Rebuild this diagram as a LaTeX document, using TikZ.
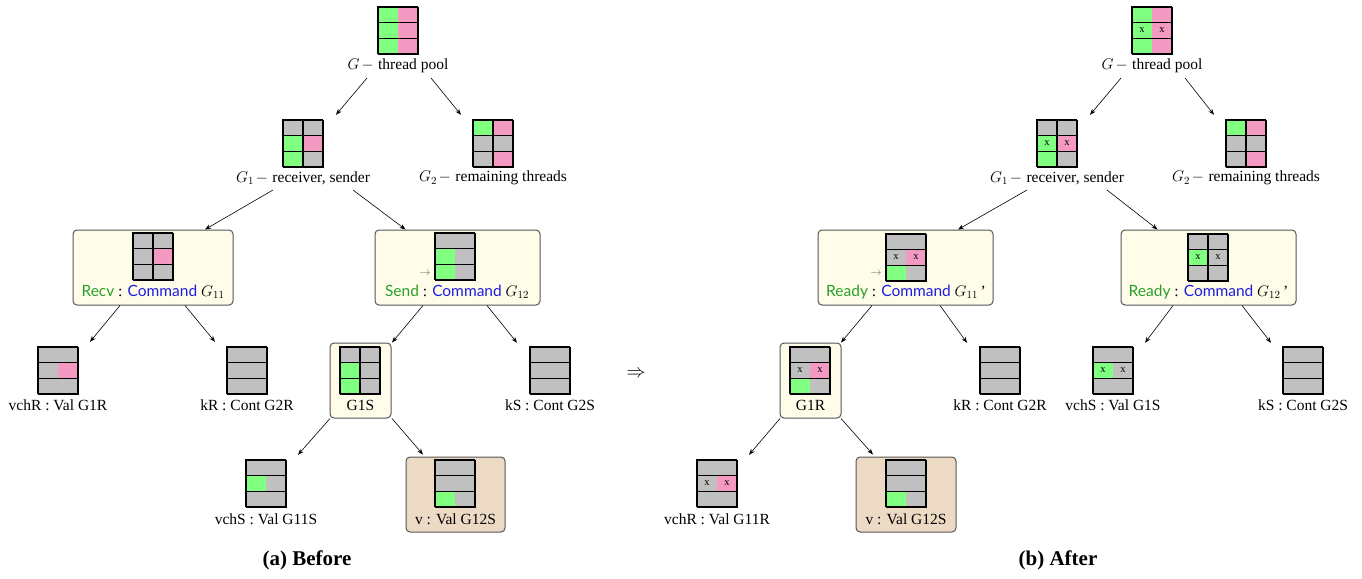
\documentclass[tikz,border=0pt]{standalone}
\usepackage{fix-cm}
\usepackage{fontspec}
\setmainfont{Liberation Serif}
\setsansfont{Lato}
\usetikzlibrary{calc,arrows.meta}

\definecolor{cgreen}{RGB}{128,255,128}
\definecolor{cpink}{RGB}{244,154,194}
\definecolor{cgray}{RGB}{192,192,192}
\definecolor{boxfill}{RGB}{255,252,234}
\definecolor{vfill}{RGB}{237,218,197}
\definecolor{boxline}{RGB}{85,85,85}
\definecolor{kwgreen}{RGB}{40,160,40}
\definecolor{kwblue}{RGB}{30,30,225}

\newcommand\kwG[1]{\textcolor{kwgreen}{\sffamily #1}}
\newcommand\kwB[1]{\textcolor{kwblue}{\sffamily #1}}
\newcommand\dsh{\hspace{2pt}$-$\hspace{4.5pt}}

\tikzset{
  lbl/.style={font=\fontsize{15.5}{17}\selectfont, inner sep=1pt},
  captxt/.style={font=\fontsize{21}{23}\selectfont\bfseries, inner sep=1pt},
  xmark/.style={font=\fontsize{10.5}{10.5}\selectfont, inner sep=0pt},
  thinl/.style={line width=1.1pt, black},
  thickl/.style={line width=2.2pt, black},
  gridnode/.style={inner sep=0pt, minimum width=40pt, minimum height=47pt},
  cbox/.style={draw=boxline, fill=boxfill, rounded corners=4pt, line width=1pt, inner sep=0pt},
  vbox/.style={draw=boxline, fill=vfill, rounded corners=4pt, line width=1pt, inner sep=0pt},
  arr/.style={-{Stealth[length=6pt,width=4.5pt]}, line width=0.6pt},
  sarrow/.style={font=\fontsize{11}{11}\selectfont, text=black!60, inner sep=0pt},
}

% #1 name, #2 top-left, #3 cells colour/mark, #4 vertical midline (1/0)
\newcommand\tgrid[4]{%
  \begin{scope}[shift={(#2)}]
    \foreach \cl/\mk [count=\i from 0] in {#3} {
      \pgfmathtruncatemacro\rowi{\i/2}
      \pgfmathtruncatemacro\coli{mod(\i,2)}
      \fill[\cl] (\coli*20,\rowi*15.667) rectangle ++(20,15.667);
      \node[xmark] at (\coli*20+10,\rowi*15.667+7.83) {\mk};
    }
    \draw[thinl] (0,47) -- (0,0) -- (40,0);
    \draw[thinl] (0,15.667) -- (40,15.667) (0,31.333) -- (40,31.333);
    \ifnum#4=1 \draw[thinl] (20,0) -- (20,47); \fi
    \draw[thickl] (40,0) -- (40,47) -- (0,47);
    \node[gridnode] (#1) at (20,23.5) {};
  \end{scope}}

\begin{document}
\begin{tikzpicture}[x=1pt,y=-1pt]
\useasboundingbox (0,0) rectangle (1362,578);

% ================= (a) Before =================
\tgrid{Ga}{378,7}{cgreen/,cpink/,cgreen/,cpink/,cgreen/,cpink/}{0}
\node[lbl] (Gla) at (398,66) {$G$\dsh thread pool};

\tgrid{G1a}{283,120}{cgray/,cgray/,cgreen/,cpink/,cgreen/,cgray/}{1}
\node[lbl] (G1la) at (303,178) {$G_1$\dsh receiver, sender};

\tgrid{G2a}{473,120}{cgreen/,cpink/,cgray/,cgray/,cgray/,cpink/}{1}
\node[lbl] (G2la) at (493,178) {$G_2$\dsh remaining threads};

\node[cbox, minimum width=160pt, minimum height=75pt] (recv) at (153,267.5) {};
\tgrid{recvg}{133,233}{cgray/,cgray/,cgray/,cpink/,cgray/,cgray/}{1}
\node[lbl] (recvl) at (153,292) {\kwG{Recv} : \kwB{Command} $G_{11}$};

\node[cbox, minimum width=165pt, minimum height=75pt] (send) at (457.5,267.5) {};
\tgrid{sendg}{435,233}{cgray/,cgray/,cgreen/,cgray/,cgreen/,cgray/}{0}
\node[sarrow] (senda) at (425,273) {$\rightarrow$};
\node[lbl] (sendl) at (457,292) {\kwG{Send} : \kwB{Command} $G_{12}$};

\tgrid{vchRa}{38,347}{cgray/,cgray/,cgray/,cpink/,cgray/,cgray/}{0}
\node[lbl] (vchRla) at (58,405) {vchR : Val G1R};

\tgrid{kRa}{227,347}{cgray/,cgray/,cgray/,cgray/,cgray/,cgray/}{0}
\node[lbl] (kRla) at (247,405) {kR : Cont G2R};

\node[cbox, minimum width=61pt, minimum height=75pt] (g1s) at (360.5,380.5) {};
\tgrid{g1sg}{340,347}{cgray/,cgray/,cgreen/,cgray/,cgreen/,cgray/}{1}
\node[lbl] (g1sl) at (360.5,405) {G1S};

\tgrid{kSa}{530,347}{cgray/,cgray/,cgray/,cgray/,cgray/,cgray/}{0}
\node[lbl] (kSla) at (550,405) {kS : Cont G2S};

\tgrid{vchSa}{246,460}{cgray/,cgray/,cgreen/,cgray/,cgray/,cgray/}{0}
\node[lbl] (vchSla) at (266,519) {vchS : Val G11S};

\node[vbox, minimum width=99pt, minimum height=75pt] (va) at (455.5,494.5) {};
\tgrid{vag}{435,460}{cgray/,cgray/,cgray/,cgray/,cgreen/,cgray/}{0}
\node[lbl] (val) at (455.5,519) {v : Val G12S};

\node[captxt] (capa) at (307,560) {(a) Before};

\draw[arr] ($(Gla.center)+(-31,12)$) -- ($(G1a.north)+(33,-5)$);
\draw[arr] ($(Gla.center)+(33,12)$) -- ($(G2a.north)+(-32,-5)$);
\draw[arr] ($(G1la.center)+(-30,12)$) -- ($(recv.north)+(52,0)$);
\draw[arr] ($(G1la.center)+(50,12)$) -- ($(send.north)+(-52,0)$);
\draw[arr] ($(recv.south)+(-33,0)$) -- ($(vchRa.north)+(32,-5)$);
\draw[arr] ($(recv.south)+(32,0)$) -- ($(kRa.north)+(-32,-5)$);
\draw[arr] ($(send.south)+(-34.5,0)$) -- ($(g1s.north)+(31.5,0)$);
\draw[arr] ($(send.south)+(29.5,0)$) -- ($(kSa.north)+(-33,-4)$);
\draw[arr] ($(g1s.south)+(-30.5,0)$) -- ($(vchSa.north)+(32,-5)$);
\draw[arr] ($(g1s.south)+(31.5,0)$) -- ($(va.north)+(-32.5,-2)$);

% ================= implies =================
\node[inner sep=0pt] (impl) at (636,374) {\scalebox{1.9}{$\Rightarrow$}};

% ================= (b) After =================
\tgrid{Gb}{1132,7}{cgreen/,cpink/,cgreen/x,cpink/x,cgreen/,cpink/}{0}
\node[lbl] (Glb) at (1152,66) {$G$\dsh thread pool};

\tgrid{G1b}{1037,120}{cgray/,cgray/,cgreen/x,cpink/x,cgreen/,cgray/}{1}
\node[lbl] (G1lb) at (1057,178) {$G_1$\dsh receiver, sender};

\tgrid{G2b}{1226,120}{cgreen/,cpink/,cgray/,cgray/,cgray/,cpink/}{1}
\node[lbl] (G2lb) at (1246,178) {$G_2$\dsh remaining threads};

\node[cbox, minimum width=175pt, minimum height=75pt] (ready1) at (905.5,267.5) {};
\tgrid{ready1g}{886,234}{cgray/,cgray/,cgray/x,cpink/x,cgreen/,cgray/}{0}
\node[sarrow] (ready1a) at (876,273) {$\rightarrow$};
\node[lbl] (ready1l) at (906,292) {\kwG{Ready} : \kwB{Command} $G_{11}$\,’};

\node[cbox, minimum width=175pt, minimum height=75pt] (ready2) at (1208.5,267.5) {};
\tgrid{ready2g}{1188,234}{cgray/,cgray/,cgreen/x,cgray/x,cgray/,cgray/}{1}
\node[lbl] (ready2l) at (1208.5,292) {\kwG{Ready} : \kwB{Command} $G_{12}$\,’};

\node[cbox, minimum width=61pt, minimum height=75pt] (g1r) at (810.5,380.5) {};
\tgrid{g1rg}{790,347}{cgray/,cgray/,cgray/x,cpink/x,cgreen/,cgray/}{0}
\node[lbl] (g1rl) at (810.5,405) {G1R};

\tgrid{kRb}{980,347}{cgray/,cgray/,cgray/,cgray/,cgray/,cgray/}{0}
\node[lbl] (kRlb) at (1000,405) {kR : Cont G2R};

\tgrid{vchSb}{1093,347}{cgray/,cgray/,cgreen/x,cgray/x,cgray/,cgray/}{0}
\node[lbl] (vchSlb) at (1113,405) {vchS : Val G1S};

\tgrid{kSb}{1283,347}{cgray/,cgray/,cgray/,cgray/,cgray/,cgray/}{0}
\node[lbl] (kSlb) at (1303,405) {kS : Cont G2S};

\tgrid{vchRb}{697,460}{cgray/,cgray/,cgray/x,cpink/x,cgray/,cgray/}{0}
\node[lbl] (vchRlb) at (717,519) {vchR : Val G11R};

\node[vbox, minimum width=100pt, minimum height=75pt] (vb) at (906,494.5) {};
\tgrid{vbg}{886,460}{cgray/,cgray/,cgray/,cgray/,cgreen/,cgray/}{0}
\node[lbl] (vbl) at (906,519) {v : Val G12S};

\node[captxt] (capb) at (1058,560) {(b) After};

\draw[arr] ($(Glb.center)+(-31,12)$) -- ($(G1b.north)+(33,-5)$);
\draw[arr] ($(Glb.center)+(33,12)$) -- ($(G2b.north)+(-32,-5)$);
\draw[arr] ($(G1lb.center)+(-30,12)$) -- ($(ready1.north)+(52.5,0)$);
\draw[arr] ($(G1lb.center)+(50,12)$) -- ($(ready2.north)+(-51,0)$);
\draw[arr] ($(ready1.south)+(-33.5,0)$) -- ($(g1r.north)+(30.5,0)$);
\draw[arr] ($(ready1.south)+(34.5,0)$) -- ($(kRb.north)+(-33,-4)$);
\draw[arr] ($(ready2.south)+(-35.5,0)$) -- ($(vchSb.north)+(32,-4)$);
\draw[arr] ($(ready2.south)+(33.5,0)$) -- ($(kSb.north)+(-32,-4)$);
\draw[arr] ($(g1r.south)+(-30.5,0)$) -- ($(vchRb.north)+(32,-5)$);
\draw[arr] ($(g1r.south)+(30.5,0)$) -- ($(vb.north)+(-33,-2)$);
\end{tikzpicture}
\end{document}
